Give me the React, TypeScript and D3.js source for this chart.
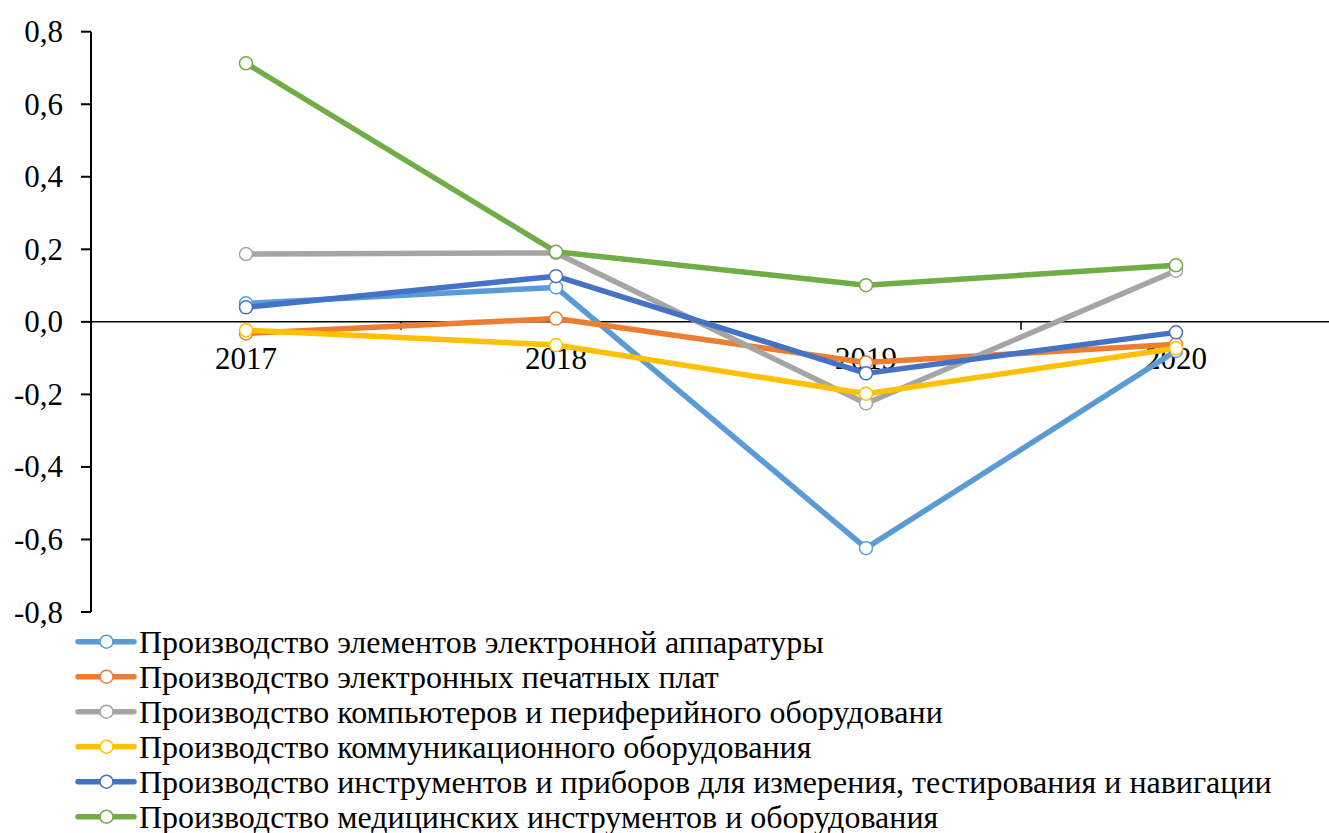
import React from "react";
import * as d3 from "d3";

const years = ["2017", "2018", "2019", "2020"];
const seriesNames = [
  "Производство элементов электронной аппаратуры",
  "Производство электронных печатных плат",
  "Производство компьютеров и периферийного оборудовани",
  "Производство коммуникационного оборудования",
  "Производство инструментов и приборов для измерения, тестирования и навигации",
  "Производство медицинских инструментов и оборудования",
];
const elementsValues = [0.051, 0.095, -0.624, -0.08];
const pcbValues = [-0.032, 0.009, -0.112, -0.062];
const computersValues = [0.187, 0.19, -0.225, 0.141];
const commValues = [-0.023, -0.064, -0.198, -0.073];
const instrumentsValues = [0.04, 0.126, -0.142, -0.029];
const medicalValues = [0.713, 0.193, 0.101, 0.156];
const seriesValues = [elementsValues, pcbValues, computersValues, commValues, instrumentsValues, medicalValues];
const colors = ["#5B9BD5", "#ED7D31", "#A5A5A5", "#FFC000", "#4472C4", "#70AD47"];
const yTicks = [0.8, 0.6, 0.4, 0.2, 0.0, -0.2, -0.4, -0.6, -0.8];

const W = 1329;
const H = 833;
const FONT = "'Times New Roman', 'Liberation Serif', Tinos, serif";

export default function App() {
  const x = d3.scaleBand<string>().domain(years).range([91, 1331]);
  const y = d3.scaleLinear().domain([-0.8, 0.8]).range([612, 31.7]);
  const line = d3
    .line<number>()
    .x((_, i) => (x(years[i]) as number) + x.bandwidth() / 2)
    .y((d) => y(d));
  const fmt = (v: number) => v.toFixed(1).replace(".", ",");
  const y0 = y(0);

  return (
    <div style={{ position: "absolute", left: 0, top: 0, fontFamily: FONT }}>
      <svg width={W} height={H} style={{ display: "block", background: "#fff", fontFamily: FONT }}>
        <line x1={91} x2={91} y1={y(0.8)} y2={y(-0.8)} stroke="#000" strokeWidth={2} />
        {yTicks.map((t) => (
          <g key={t}>
            <line x1={81} x2={91} y1={y(t)} y2={y(t)} stroke="#000" strokeWidth={2} />
            <text x={63} y={y(t) + 10.5} textAnchor="end" fontFamily={FONT} fontSize={31} fill="#000">
              {fmt(t)}
            </text>
          </g>
        ))}
        <line x1={91} x2={W} y1={y0} y2={y0} stroke="#000" strokeWidth={1.5} />
        {years.slice(1).map((yr) => (
          <line
            key={yr}
            x1={x(yr) as number}
            x2={x(yr) as number}
            y1={y0}
            y2={y0 + 8}
            stroke="#000"
            strokeWidth={1.5}
          />
        ))}
        {years.map((yr) => (
          <text
            key={yr}
            x={(x(yr) as number) + x.bandwidth() / 2}
            y={369.3}
            textAnchor="middle"
            fontFamily={FONT}
            fontSize={31}
            fill="#000"
          >
            {yr}
          </text>
        ))}
        {seriesValues.map((vals, si) => (
          <g key={si}>
            <path d={line(vals) as string} fill="none" stroke={colors[si]} strokeWidth={5.5} strokeLinejoin="round" />
            {vals.map((v, i) => (
              <circle
                key={i}
                cx={(x(years[i]) as number) + x.bandwidth() / 2}
                cy={y(v)}
                r={6.5}
                fill="#fff"
                stroke={colors[si]}
                strokeWidth={1.5}
              />
            ))}
          </g>
        ))}
        {seriesNames.map((name, i) => {
          const cy = 641.7 + i * 35;
          return (
            <g key={name}>
              <line x1={78} x2={134} y1={cy} y2={cy} stroke={colors[i]} strokeWidth={5.5} strokeLinecap="round" />
              <circle cx={106.5} cy={cy} r={6.5} fill="#fff" stroke={colors[i]} strokeWidth={1.5} />
              <text x={139} y={cy + 10.8} fontFamily={FONT} fontSize={32} fill="#000">
                {name}
              </text>
            </g>
          );
        })}
      </svg>
    </div>
  );
}
